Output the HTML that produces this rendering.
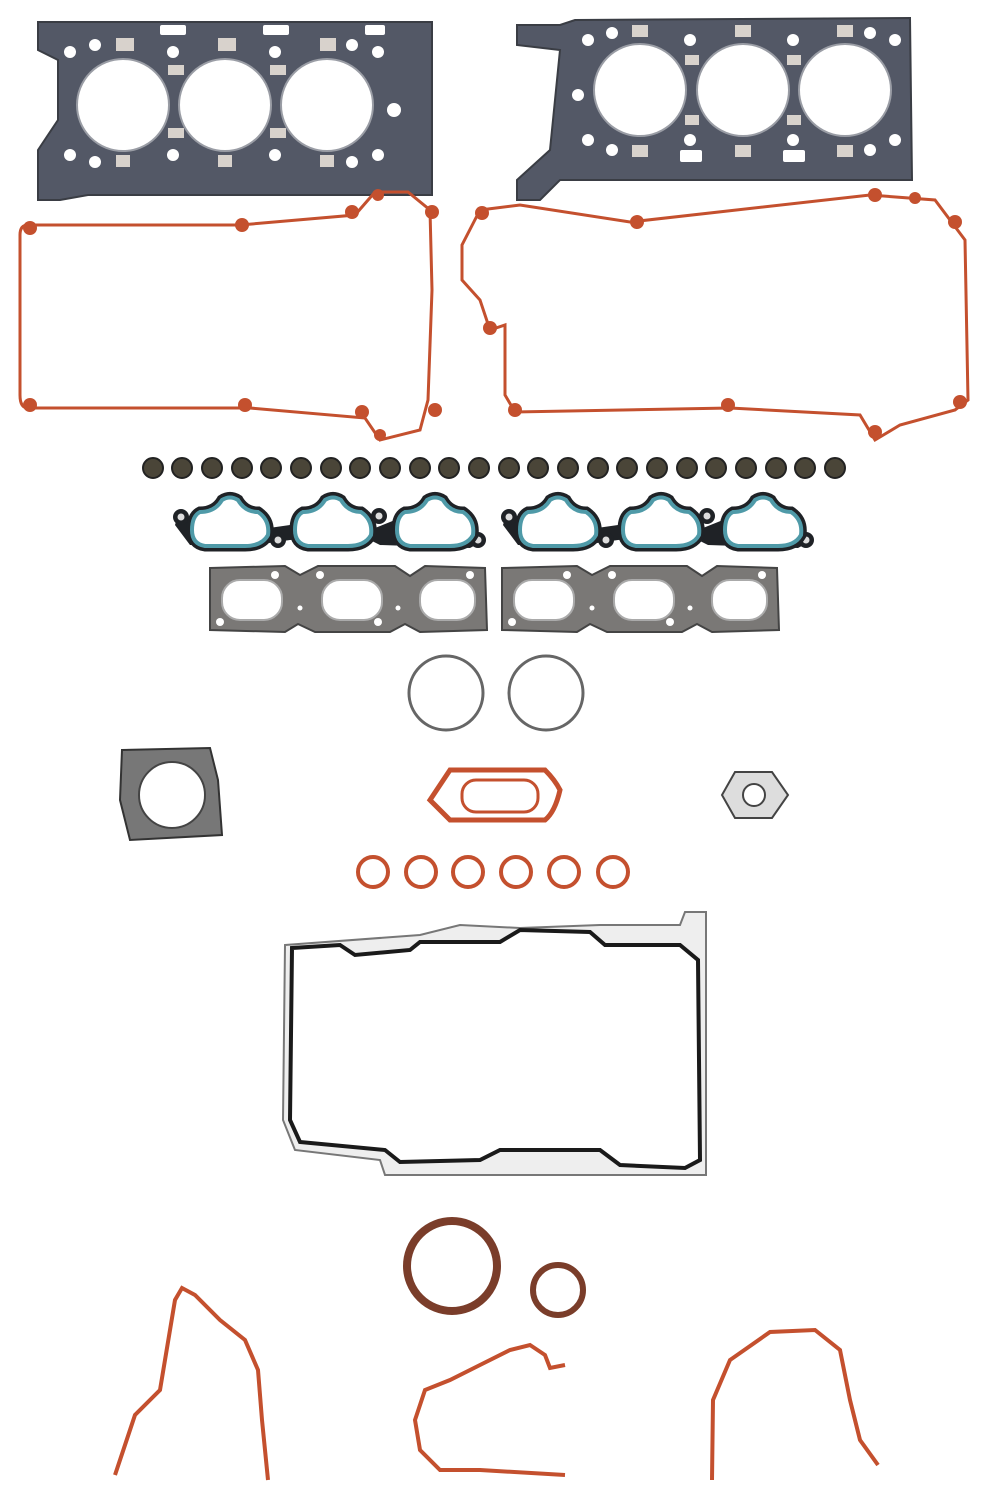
<!DOCTYPE html>
<html><head><meta charset="utf-8"><style>html,body{margin:0;padding:0;background:#fff}svg{display:block}</style></head>
<body>
<svg width="990" height="1500" viewBox="0 0 990 1500" xmlns="http://www.w3.org/2000/svg">
<!-- head gaskets -->
<path d="M38 22 L432 22 L432 195 L88 195 L60 200 L38 200 L38 150 L58 120 L58 60 L38 50 Z" fill="#535866" stroke="#3a3d44" stroke-width="2"/>
<g fill="#fff">
<circle cx="123" cy="105" r="46" stroke="#9a9da5" stroke-width="2"/>
<circle cx="225" cy="105" r="46" stroke="#9a9da5" stroke-width="2"/>
<circle cx="327" cy="105" r="46" stroke="#9a9da5" stroke-width="2"/>
<circle cx="70" cy="52" r="6"/><circle cx="95" cy="45" r="6"/><circle cx="173" cy="52" r="6"/><circle cx="275" cy="52" r="6"/><circle cx="352" cy="45" r="6"/><circle cx="378" cy="52" r="6"/>
<circle cx="70" cy="155" r="6"/><circle cx="95" cy="162" r="6"/><circle cx="173" cy="155" r="6"/><circle cx="275" cy="155" r="6"/><circle cx="352" cy="162" r="6"/><circle cx="378" cy="155" r="6"/><circle cx="394" cy="110" r="7"/><circle cx="52" cy="78" r="4"/>
<rect x="160" y="25" width="26" height="10" rx="2"/><rect x="263" y="25" width="26" height="10" rx="2"/><rect x="365" y="25" width="20" height="10" rx="2"/>
</g>
<g fill="#d8d2cc">
<rect x="116" y="38" width="18" height="13"/><rect x="218" y="38" width="18" height="13"/><rect x="320" y="38" width="16" height="13"/>
<rect x="116" y="155" width="14" height="12"/><rect x="218" y="155" width="14" height="12"/><rect x="320" y="155" width="14" height="12"/>
<rect x="168" y="65" width="16" height="10"/><rect x="270" y="65" width="16" height="10"/><rect x="168" y="128" width="16" height="10"/><rect x="270" y="128" width="16" height="10"/>
</g>
<path d="M517 25 L560 25 L575 20 L910 18 L912 180 L560 180 L540 200 L517 200 L517 180 L550 150 L560 50 L517 45 Z" fill="#535866" stroke="#3a3d44" stroke-width="2"/>
<g fill="#fff">
<circle cx="640" cy="90" r="46" stroke="#9a9da5" stroke-width="2"/>
<circle cx="743" cy="90" r="46" stroke="#9a9da5" stroke-width="2"/>
<circle cx="845" cy="90" r="46" stroke="#9a9da5" stroke-width="2"/>
<circle cx="588" cy="40" r="6"/><circle cx="612" cy="33" r="6"/><circle cx="690" cy="40" r="6"/><circle cx="793" cy="40" r="6"/><circle cx="870" cy="33" r="6"/><circle cx="895" cy="40" r="6"/>
<circle cx="588" cy="140" r="6"/><circle cx="612" cy="150" r="6"/><circle cx="690" cy="140" r="6"/><circle cx="793" cy="140" r="6"/><circle cx="870" cy="150" r="6"/><circle cx="895" cy="140" r="6"/><circle cx="578" cy="95" r="6"/>
<rect x="680" y="150" width="22" height="12" rx="2"/><rect x="783" y="150" width="22" height="12" rx="2"/>
</g>
<g fill="#d8d2cc">
<rect x="632" y="25" width="16" height="12"/><rect x="735" y="25" width="16" height="12"/><rect x="837" y="25" width="16" height="12"/>
<rect x="632" y="145" width="16" height="12"/><rect x="735" y="145" width="16" height="12"/><rect x="837" y="145" width="16" height="12"/>
<rect x="685" y="55" width="14" height="10"/><rect x="787" y="55" width="14" height="10"/><rect x="685" y="115" width="14" height="10"/><rect x="787" y="115" width="14" height="10"/>
</g>
<!-- valve cover gaskets -->
<g fill="none" stroke="#c4502e" stroke-width="3">
<path d="M28 225 L240 225 L355 215 L375 192 L408 192 L430 210 L432 290 L428 400 L420 430 L380 440 L365 418 L250 408 L28 408 Q20 408 20 395 L20 235 Q20 225 28 225 Z"/>
<path d="M480 210 L520 205 L630 222 L870 195 L935 200 L965 240 L968 400 L955 410 L900 425 L875 440 L860 415 L730 408 L515 412 L505 395 L505 325 L490 330 L480 300 L462 280 L462 245 Z"/>
</g>
<g fill="#c4502e">
<circle cx="30" cy="228" r="7"/><circle cx="242" cy="225" r="7"/><circle cx="352" cy="212" r="7"/><circle cx="378" cy="195" r="6"/><circle cx="432" cy="212" r="7"/><circle cx="30" cy="405" r="7"/><circle cx="245" cy="405" r="7"/><circle cx="362" cy="412" r="7"/><circle cx="435" cy="410" r="7"/><circle cx="380" cy="435" r="6"/>
<circle cx="482" cy="213" r="7"/><circle cx="637" cy="222" r="7"/><circle cx="875" cy="195" r="7"/><circle cx="915" cy="198" r="6"/><circle cx="955" cy="222" r="7"/><circle cx="490" cy="328" r="7"/><circle cx="515" cy="410" r="7"/><circle cx="728" cy="405" r="7"/><circle cx="960" cy="402" r="7"/><circle cx="875" cy="432" r="7"/>
</g>
<!-- valve seals -->
<g fill="#4a4538" stroke="#222" stroke-width="2">
<circle cx="153" cy="468" r="10"/><circle cx="182" cy="468" r="10"/><circle cx="212" cy="468" r="10"/><circle cx="242" cy="468" r="10"/><circle cx="271" cy="468" r="10"/><circle cx="301" cy="468" r="10"/><circle cx="331" cy="468" r="10"/><circle cx="360" cy="468" r="10"/><circle cx="390" cy="468" r="10"/><circle cx="420" cy="468" r="10"/><circle cx="449" cy="468" r="10"/><circle cx="479" cy="468" r="10"/><circle cx="509" cy="468" r="10"/><circle cx="538" cy="468" r="10"/><circle cx="568" cy="468" r="10"/><circle cx="598" cy="468" r="10"/><circle cx="627" cy="468" r="10"/><circle cx="657" cy="468" r="10"/><circle cx="687" cy="468" r="10"/><circle cx="716" cy="468" r="10"/><circle cx="746" cy="468" r="10"/><circle cx="776" cy="468" r="10"/><circle cx="805" cy="468" r="10"/><circle cx="835" cy="468" r="10"/>
</g>
<!-- intake gaskets -->
<defs>
<path id="port" d="M200 512 Q215 512 222 500 Q230 495 238 500 Q245 512 258 512 Q270 520 268 535 Q262 546 245 546 L205 546 Q192 544 192 530 Q192 516 200 512 Z"/>
</defs>
<g id="intk">
<path d="M178 515 L255 530 L290 525 L370 530 L395 520 L470 530 L485 540 L470 548 L380 545 L360 535 L290 540 L255 545 L190 545 L175 525 Z" fill="#1f2226"/>
<circle cx="181" cy="517" r="8" fill="#1f2226"/><circle cx="181" cy="517" r="3.5" fill="#ddd"/>
<circle cx="278" cy="540" r="8" fill="#1f2226"/><circle cx="278" cy="540" r="3.5" fill="#ddd"/>
<circle cx="379" cy="516" r="8" fill="#1f2226"/><circle cx="379" cy="516" r="3.5" fill="#ddd"/>
<circle cx="478" cy="540" r="8" fill="#1f2226"/><circle cx="478" cy="540" r="3.5" fill="#ddd"/>
<g fill="#fff" stroke="#1f2226" stroke-width="11"><use href="#port"/><use href="#port" x="103"/><use href="#port" x="205"/></g>
<g fill="#fff" stroke="#4f9aa8" stroke-width="4"><use href="#port"/><use href="#port" x="103"/><use href="#port" x="205"/></g>
</g>
<use href="#intk" x="328"/>
<!-- exhaust gaskets -->
<g id="exh">
<path d="M210 568 L285 566 L300 575 L318 566 L395 566 L410 576 L425 566 L485 568 L487 630 L420 632 L405 624 L390 632 L315 632 L298 624 L285 632 L210 630 Z" fill="#7a7876" stroke="#444" stroke-width="2"/>
<rect x="222" y="580" width="60" height="40" rx="18" fill="#fff" stroke="#aaa" stroke-width="2"/>
<rect x="322" y="580" width="60" height="40" rx="18" fill="#fff" stroke="#aaa" stroke-width="2"/>
<rect x="420" y="580" width="55" height="40" rx="18" fill="#fff" stroke="#aaa" stroke-width="2"/>
<g fill="#fff"><circle cx="275" cy="575" r="4"/><circle cx="220" cy="622" r="4"/><circle cx="320" cy="575" r="4"/><circle cx="378" cy="622" r="4"/><circle cx="470" cy="575" r="4"/><circle cx="300" cy="608" r="2.5"/><circle cx="398" cy="608" r="2.5"/></g>
</g>
<use href="#exh" x="292"/>
<!-- rings -->
<circle cx="446" cy="693" r="37" fill="none" stroke="#666" stroke-width="3"/>
<circle cx="546" cy="693" r="37" fill="none" stroke="#666" stroke-width="3"/>
<!-- throttle gasket -->
<path d="M122 750 L210 748 L218 780 L222 835 L130 840 L120 800 Z" fill="#777" stroke="#333" stroke-width="2"/>
<circle cx="172" cy="795" r="33" fill="#fff" stroke="#444" stroke-width="2"/>
<!-- orange oval -->
<path d="M450 770 L545 770 Q555 780 560 790 Q555 812 545 820 L450 820 L430 800 Z" fill="none" stroke="#c4502e" stroke-width="5"/>
<rect x="462" y="780" width="76" height="32" rx="14" fill="none" stroke="#c4502e" stroke-width="3"/>
<!-- hex -->
<path d="M735 772 L772 772 L788 795 L772 818 L735 818 L722 795 Z" fill="#ddd" stroke="#444" stroke-width="2"/>
<circle cx="754" cy="795" r="11" fill="#fff" stroke="#444" stroke-width="2"/>
<!-- o-rings -->
<g fill="none" stroke="#c4502e" stroke-width="4">
<circle cx="373" cy="872" r="15"/><circle cx="421" cy="872" r="15"/><circle cx="468" cy="872" r="15"/><circle cx="516" cy="872" r="15"/><circle cx="564" cy="872" r="15"/><circle cx="613" cy="872" r="15"/>
</g>
<!-- oil pan -->
<path d="M285 945 L420 935 L460 925 L520 928 L600 925 L680 925 L685 912 L706 912 L706 1175 L385 1175 L380 1160 L295 1150 L283 1120 Z" fill="#eee" stroke="#777" stroke-width="2"/>
<path d="M292 948 L340 945 L355 955 L410 950 L420 942 L500 942 L520 930 L590 932 L605 945 L680 945 L698 960 L700 1160 L685 1168 L620 1165 L600 1150 L500 1150 L480 1160 L400 1162 L385 1150 L300 1142 L290 1120 Z" fill="#fff" stroke="#1a1a1a" stroke-width="4"/>
<!-- seals -->
<circle cx="452" cy="1266" r="45" fill="none" stroke="#7a3d2a" stroke-width="8"/>
<circle cx="558" cy="1290" r="25" fill="none" stroke="#7a3d2a" stroke-width="6"/>
<!-- front cover gaskets -->
<g fill="none" stroke="#c4502e" stroke-width="4">
<path d="M115 1475 L135 1415 L160 1390 L175 1300 L182 1288 L195 1295 L220 1320 L245 1340 L258 1370 L262 1420 L268 1480"/>
<path d="M565 1475 L480 1470 L440 1470 L420 1450 L415 1420 L425 1390 L450 1380 L480 1365 L510 1350 L530 1345 L545 1355 L550 1368 L565 1365"/>
<path d="M712 1480 L713 1400 L730 1360 L770 1332 L815 1330 L840 1350 L850 1400 L860 1440 L878 1465"/>
</g>
</svg>
</body></html>
